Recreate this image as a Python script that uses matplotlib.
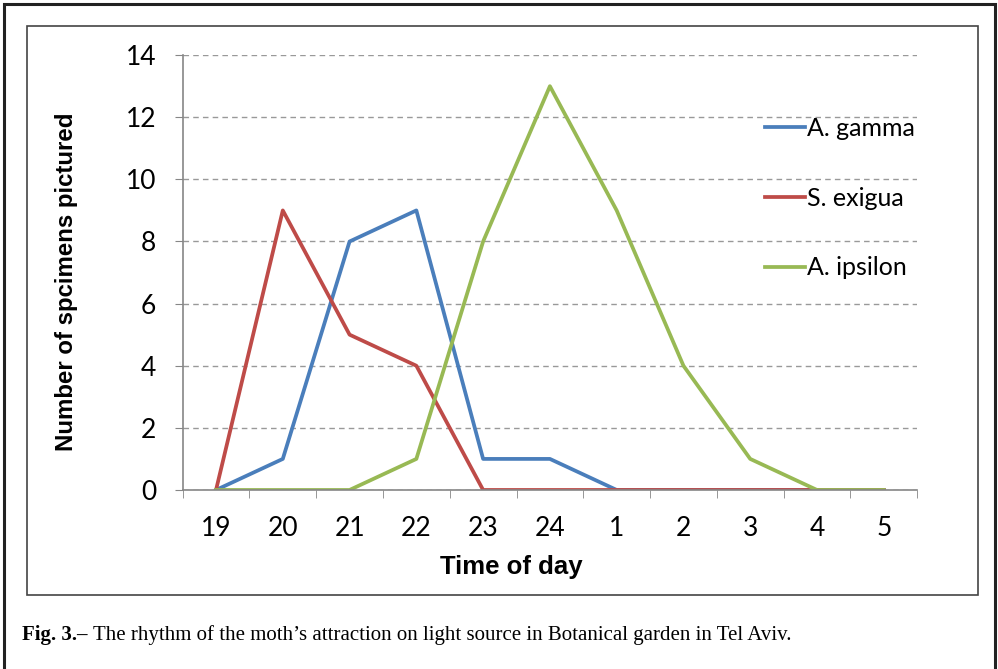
import matplotlib.pyplot as plt
import numpy as np
from matplotlib.patches import Rectangle

hours = ['19', '20', '21', '22', '23', '24', '1', '2', '3', '4', '5']
gamma = [0, 1, 8, 9, 1, 1, 0, 0, 0, 0, 0]
exigua = [0, 9, 5, 4, 0, 0, 0, 0, 0, 0, 0]
ipsilon = [0, 0, 0, 1, 8, 13, 9, 4, 1, 0, 0]

fig = plt.figure(figsize=(9.98, 6.69), dpi=100)

# outer frame and chart box
fig.patches.append(Rectangle((0.004, -0.01), 0.993, 1.004, transform=fig.transFigure,
                             fill=False, edgecolor='#222222', linewidth=2.2))
fig.patches.append(Rectangle((0.027, 0.111), 0.953, 0.850, transform=fig.transFigure,
                             fill=False, edgecolor='#444444', linewidth=1.2))

ax = fig.add_axes([0.183, 0.2676, 0.736, 0.650])
x = np.arange(len(hours))
ax.plot(x, gamma, color='#4A7EBB', lw=2.7, label='A. gamma')
ax.plot(x, exigua, color='#BE4B48', lw=2.7, label='S. exigua')
ax.plot(x, ipsilon, color='#98B954', lw=2.7, label='A. ipsilon')

ax.set_xlim(-0.5, len(hours) - 0.5)
ax.set_ylim(0, 14)
ax.set_yticks(range(0, 15, 2))
ax.set_xticks(x)
ax.set_xticklabels(hours)
ax.set_xticks(np.arange(-0.5, len(hours), 1), minor=True)
ax.tick_params(axis='x', which='major', length=0, pad=19, labelsize=19)
ax.tick_params(axis='x', which='minor', length=6, color='#868686', direction='out')
ax.tick_params(axis='y', length=6, color='#868686', labelsize=19, pad=13)
for lab in ax.get_xticklabels() + ax.get_yticklabels():
    lab.set_family('Lato')

ax.yaxis.grid(True, linestyle=(0, (4, 3)), color='#999999', linewidth=1)
ax.set_axisbelow(True)
for s in ['top', 'right']:
    ax.spines[s].set_visible(False)
for s in ['left', 'bottom']:
    ax.spines[s].set_color('#868686')
    ax.spines[s].set_linewidth(1.2)

ax.set_ylabel('Number of spcimens pictured', fontsize=17.3, fontweight='bold',
              family='Liberation Sans')
ax.yaxis.set_label_coords(-0.1424, 0.478)
ax.set_xlabel('Time of day', fontsize=18.5, fontweight='bold',
              family='Liberation Sans')
ax.xaxis.set_label_coords(0.448, -0.149)

leg = ax.legend(loc='upper left', bbox_to_anchor=(0.762, 0.91), frameon=False,
                handlelength=1.6, handletextpad=0.08, labelspacing=1.87,
                prop={'family': 'Lato', 'size': 18})

fig.text(0.022, 0.051, 'Fig. 3.\u2013', fontsize=15, fontweight='bold',
         family='Liberation Serif', va='center')
fig.text(0.093, 0.051, 'The rhythm of the moth\u2019s attraction on light source in Botanical garden in Tel Aviv.',
         fontsize=15, family='Liberation Serif', va='center')

fig.savefig('out.png', dpi=100)
